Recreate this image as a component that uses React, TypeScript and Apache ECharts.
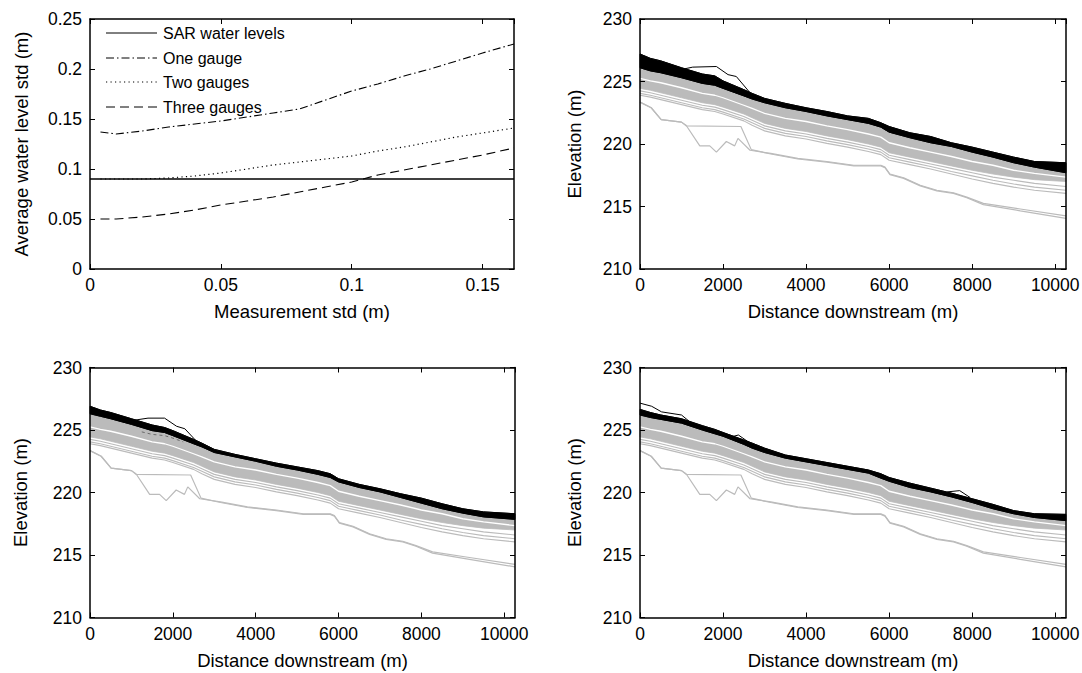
import React, { useEffect, useRef } from "react";
import * as echarts from "echarts";

const FONT = "'Liberation Sans', Arial, Helvetica, sans-serif";
const GRAY = "#bbbbbb";

// ---------- Panel (a): average water level std vs measurement std ----------
const stdX = [0.004, 0.01, 0.02, 0.03, 0.04, 0.05, 0.06, 0.07, 0.08, 0.09, 0.1, 0.11, 0.12, 0.13, 0.14, 0.15, 0.162];
const sarX = [0, 0.162];
const sarStd = [0.09, 0.09];
const oneGauge = [0.137, 0.135, 0.138, 0.142, 0.145, 0.148, 0.152, 0.156, 0.16, 0.169, 0.178, 0.185, 0.193, 0.2, 0.208, 0.216, 0.225];
const twoGauges = [0.09, 0.09, 0.09, 0.091, 0.093, 0.096, 0.1, 0.104, 0.107, 0.11, 0.113, 0.118, 0.122, 0.127, 0.132, 0.136, 0.141];
const threeGauges = [0.05, 0.05, 0.052, 0.055, 0.059, 0.064, 0.068, 0.072, 0.077, 0.082, 0.087, 0.094, 0.099, 0.104, 0.109, 0.114, 0.121];
const legendNames = ["SAR water levels", "One gauge", "Two gauges", "Three gauges"];
const DASH_ONE: number[] = [8, 3, 1.5, 3];
const DASH_TWO: number[] = [1.2, 3.3];
const DASH_THREE: number[] = [9, 5];
const legendDashes: (number[] | null)[] = [null, DASH_ONE, DASH_TWO, DASH_THREE];

// ---------- Elevation profiles (shared ensemble, grey) ----------
const distance = [0, 250, 500, 1000, 1500, 1800, 2000, 2500, 2700, 3000, 3500, 4000, 4500, 5000, 5500, 5800, 6000, 6500, 7000, 7500, 8000, 8500, 9000, 9500, 10260];
const grayBottom = [224.45, 224.3, 224.1, 223.7, 223.3, 223.15, 222.95, 222.4, 222.1, 221.65, 221.25, 221.0, 220.65, 220.35, 220.0, 219.75, 219.3, 218.95, 218.6, 218.25, 217.9, 217.6, 217.35, 217.15, 217.0];
const grayLine1 = [224.25, 224.1, 223.9, 223.5, 223.1, 222.95, 222.75, 222.2, 221.9, 221.45, 221.05, 220.8, 220.45, 220.15, 219.8, 219.55, 219.1, 218.75, 218.4, 218.05, 217.7, 217.35, 217.1, 216.85, 216.6];
const grayLine2 = [224.05, 223.9, 223.7, 223.3, 222.9, 222.75, 222.55, 222.0, 221.7, 221.25, 220.85, 220.6, 220.25, 219.95, 219.6, 219.35, 218.9, 218.55, 218.2, 217.8, 217.45, 217.1, 216.8, 216.55, 216.3];
const grayLine3 = [223.9, 223.75, 223.55, 223.15, 222.75, 222.6, 222.4, 221.85, 221.5, 221.05, 220.65, 220.4, 220.05, 219.75, 219.4, 219.15, 218.7, 218.35, 218.0, 217.6, 217.2, 216.85, 216.55, 216.3, 216.05];
const whiteLine = [225.25, 225.05, 224.9, 224.5, 224.05, 223.9, 223.7, 223.1, 222.85, 222.45, 222.05, 221.8, 221.45, 221.15, 220.8, 220.55, 220.1, 219.7, 219.35, 219.0, 218.6, 218.3, 217.9, 217.65, 217.35];

const lowADist = [0, 270, 510, 1000, 1110, 1440, 1680, 1840, 2080, 2280, 2360, 2650, 3150, 3800, 4500, 5150, 5800, 5900, 6020, 6350, 6750, 7150, 7550, 7870, 8270, 9160, 10260];
const lowAElev = [223.35, 222.9, 221.95, 221.75, 221.5, 219.85, 219.85, 219.35, 220.2, 219.85, 220.45, 219.5, 219.25, 218.85, 218.6, 218.3, 218.3, 218.15, 217.6, 217.3, 216.7, 216.3, 216.1, 215.75, 215.25, 214.8, 214.25];
const lowBDist = [0, 270, 510, 1000, 1110, 2430, 2680, 3150, 3800, 4500, 5150, 5800, 5900, 6020, 6350, 6750, 7150, 7550, 7870, 8270, 9160, 10260];
const lowBElev = [223.35, 222.9, 221.95, 221.75, 221.45, 221.4, 219.55, 219.2, 218.8, 218.55, 218.25, 218.25, 218.1, 217.55, 217.25, 216.65, 216.25, 216.05, 215.7, 215.15, 214.65, 214.05];

// ---------- Black (assimilated) bands per panel ----------
const trBlackTop = [227.2, 226.85, 226.65, 226.1, 225.6, 225.45, 225.05, 224.35, 224.05, 223.65, 223.25, 222.9, 222.6, 222.25, 222.05, 221.7, 221.4, 220.9, 220.6, 220.1, 219.75, 219.35, 218.95, 218.6, 218.5];
const trBlackBottom = [226.1, 225.85, 225.7, 225.3, 224.85, 224.7, 224.45, 223.85, 223.6, 223.3, 222.9, 222.6, 222.25, 221.95, 221.65, 221.35, 220.95, 220.5, 220.1, 219.8, 219.35, 218.95, 218.5, 218.15, 217.7];
const trOutDist = [980, 1270, 1840, 2120, 2320, 2650];
const trOutElev = [225.95, 226.15, 226.2, 225.55, 225.4, 224.1];

const blBlackTop = [226.9, 226.6, 226.4, 225.9, 225.4, 225.2, 224.95, 224.25, 223.95, 223.45, 223.05, 222.7, 222.35, 222.05, 221.75, 221.5, 221.1, 220.65, 220.3, 219.9, 219.55, 219.1, 218.7, 218.45, 218.3];
const blBlackBottom = [226.3, 226.1, 225.9, 225.45, 224.95, 224.8, 224.55, 223.9, 223.65, 223.2, 222.85, 222.5, 222.1, 221.8, 221.45, 221.2, 220.85, 220.4, 220.05, 219.6, 219.15, 218.7, 218.35, 218.05, 217.85];
const blOutDist = [1000, 1400, 1800, 2090, 2290, 2570];
const blOutElev = [225.75, 225.95, 225.95, 225.3, 225.1, 224.1];
const blDashDist = [1250, 1500, 1800, 2000, 2250];
const blDashElev = [224.85, 224.65, 224.55, 224.35, 224.05];

const brBlackTop = [226.65, 226.4, 226.2, 225.9, 225.35, 225.05, 224.8, 224.2, 223.95, 223.55, 223.0, 222.7, 222.4, 222.1, 221.8, 221.5, 221.2, 220.75, 220.35, 219.95, 219.5, 219.05, 218.55, 218.3, 218.25];
const brBlackBottom = [226.2, 226.0, 225.85, 225.55, 225.0, 224.7, 224.5, 223.85, 223.55, 223.2, 222.75, 222.45, 222.15, 221.85, 221.55, 221.15, 220.9, 220.4, 220.05, 219.65, 219.2, 218.7, 218.3, 218.0, 217.75];
const brOut1Dist = [0, 280, 520, 1000, 1330];
const brOut1Elev = [227.15, 226.9, 226.45, 226.2, 225.3];
const brOut2Dist = [2200, 2370, 2650];
const brOut2Elev = [224.45, 224.6, 223.95];
const brOut3Dist = [7400, 7700, 7950];
const brOut3Elev = [220.05, 220.15, 219.6];

const pairs = (xs: number[], ys: number[]) => xs.map((x, i) => [x, ys[i]]);

const TXT = { color: "#000", fontFamily: FONT };
const AXLINE = { show: true, onZero: false, lineStyle: { color: "#000", width: 1.5 } };
const TICK = { show: true, inside: true, length: 5, lineStyle: { color: "#000", width: 1 } };
const plainFmt = (v: number) => String(v);

function xMain(gi: number, max: number, interval: number, name: string) {
  return {
    type: "value", gridIndex: gi, position: "bottom", min: 0, max, interval, z: 10,
    axisLine: AXLINE, axisTick: TICK, splitLine: { show: false },
    axisLabel: { ...TXT, fontSize: 17.5, margin: 7, showMaxLabel: false, formatter: plainFmt },
    name, nameLocation: "middle", nameGap: 33, nameTextStyle: { ...TXT, fontSize: 18.5 },
  };
}
function xTop(gi: number, max: number, interval: number) {
  return {
    type: "value", gridIndex: gi, position: "top", min: 0, max, interval, z: 10,
    axisLine: AXLINE, axisTick: TICK, splitLine: { show: false }, axisLabel: { show: false },
  };
}
function yMain(gi: number, min: number, max: number, interval: number, name: string, gap: number) {
  return {
    type: "value", gridIndex: gi, position: "left", min, max, interval, z: 10,
    axisLine: AXLINE, axisTick: TICK, splitLine: { show: false },
    axisLabel: { ...TXT, fontSize: 17.5, margin: 8, formatter: plainFmt },
    name, nameLocation: "middle", nameGap: gap, nameTextStyle: { ...TXT, fontSize: 18.5 },
  };
}
function yRight(gi: number, min: number, max: number, interval: number) {
  return {
    type: "value", gridIndex: gi, position: "right", min, max, interval, z: 10,
    axisLine: AXLINE, axisTick: TICK, splitLine: { show: false }, axisLabel: { show: false },
  };
}

function line(gi: number, xs: number[], ys: number[], color: string, width: number, z: number, type: any = "solid") {
  return {
    type: "line", xAxisIndex: gi, yAxisIndex: gi, data: pairs(xs, ys), symbol: "none",
    silent: true, z, lineStyle: { color, width, type }, itemStyle: { color },
  };
}

function band(gi: number, upper: number[], lower: number[], color: string, z: number) {
  return {
    type: "custom", xAxisIndex: gi, yAxisIndex: gi, silent: true, z,
    data: [[distance[0], lower[0]]],
    renderItem: (_p: any, api: any) => {
      const pts: number[][] = [];
      for (let i = 0; i < distance.length; i++) pts.push(api.coord([distance[i], upper[i]]));
      for (let i = distance.length - 1; i >= 0; i--) pts.push(api.coord([distance[i], lower[i]]));
      return { type: "polygon", shape: { points: pts }, style: { fill: color, stroke: color, lineWidth: 0.8 } };
    },
  };
}

function elevationPanel(gi: number, top: number[], bottom: number[], extras: any[]) {
  return [
    band(gi, top, grayBottom, GRAY, 1),
    line(gi, distance, whiteLine, "#ffffff", 1.3, 2),
    line(gi, distance, grayLine1, GRAY, 1.1, 2),
    line(gi, distance, grayLine2, GRAY, 1.1, 2),
    line(gi, distance, grayLine3, GRAY, 1.1, 2),
    line(gi, lowADist, lowAElev, GRAY, 1.2, 2),
    line(gi, lowBDist, lowBElev, GRAY, 1.2, 2),
    band(gi, top, bottom, "#000000", 3),
    line(gi, distance, top, "#000", 1, 4),
    line(gi, distance, bottom, "#000", 1, 4),
    ...extras,
  ];
}

function legendGraphics() {
  const rowsY = [33, 58, 82, 107];
  const out: any[] = [];
  legendNames.forEach((name, i) => {
    const y = rowsY[i];
    out.push({
      type: "line", silent: true,
      shape: { x1: 106, y1: y, x2: 157, y2: y },
      style: { stroke: "#000", lineWidth: i === 2 ? 1.1 : 1, lineDash: legendDashes[i] || undefined },
    });
    out.push({
      type: "text", silent: true, x: 163, y,
      style: { text: name, fill: "#000", fontSize: 16, fontFamily: FONT, align: "left", verticalAlign: "middle" },
    });
  });
  return out;
}

export default function App() {
  const ref = useRef<HTMLDivElement>(null);
  useEffect(() => {
    if (!ref.current) return;
    const chart = echarts.init(ref.current, null, { renderer: "svg" });
    const DMAX = 10260;
    const option: any = {
      animation: false,
      backgroundColor: "#ffffff",
      grid: [
        { left: 90, top: 19, width: 424, height: 250, outerBoundsMode: "none" },
        { left: 640, top: 19, width: 426, height: 250, outerBoundsMode: "none" },
        { left: 90, top: 367.5, width: 425, height: 250, outerBoundsMode: "none" },
        { left: 640, top: 367.5, width: 426, height: 250, outerBoundsMode: "none" },
      ],
      xAxis: [
        xMain(0, 0.162, 0.05, "Measurement std (m)"),
        xMain(1, DMAX, 2000, "Distance downstream (m)"),
        xMain(2, DMAX, 2000, "Distance downstream (m)"),
        xMain(3, DMAX, 2000, "Distance downstream (m)"),
        xTop(0, 0.162, 0.05),
        xTop(1, DMAX, 2000),
        xTop(2, DMAX, 2000),
        xTop(3, DMAX, 2000),
      ],
      yAxis: [
        yMain(0, 0, 0.25, 0.05, "Average water level std (m)", 59),
        yMain(1, 210, 230, 5, "Elevation (m)", 56),
        yMain(2, 210, 230, 5, "Elevation (m)", 60),
        yMain(3, 210, 230, 5, "Elevation (m)", 56),
        yRight(0, 0, 0.25, 0.05),
        yRight(1, 210, 230, 5),
        yRight(2, 210, 230, 5),
        yRight(3, 210, 230, 5),
      ],
      graphic: legendGraphics(),
      series: [
        { ...line(0, sarX, sarStd, "#000", 1.3, 3), name: legendNames[0] },
        { ...line(0, stdX, oneGauge, "#000", 1.1, 3, DASH_ONE), name: legendNames[1] },
        { ...line(0, stdX, twoGauges, "#000", 1.2, 3, DASH_TWO), name: legendNames[2] },
        { ...line(0, stdX, threeGauges, "#000", 1.1, 3, DASH_THREE), name: legendNames[3] },
        ...elevationPanel(1, trBlackTop, trBlackBottom, [line(1, trOutDist, trOutElev, "#000", 1, 4)]),
        ...elevationPanel(2, blBlackTop, blBlackBottom, [
          line(2, blOutDist, blOutElev, "#000", 1, 4),
          line(2, blDashDist, blDashElev, "#555", 0.8, 2, [3, 3]),
        ]),
        ...elevationPanel(3, brBlackTop, brBlackBottom, [
          line(3, brOut1Dist, brOut1Elev, "#000", 1, 4),
          line(3, brOut2Dist, brOut2Elev, "#000", 1, 4),
          line(3, brOut3Dist, brOut3Elev, "#000", 1, 4),
        ]),
      ],
    };
    chart.setOption(option);
    return () => chart.dispose();
  }, []);
  return (
    <div
      ref={ref}
      style={{ position: "absolute", left: 0, top: 0, width: 1082, height: 673, background: "#fff" }}
    />
  );
}
